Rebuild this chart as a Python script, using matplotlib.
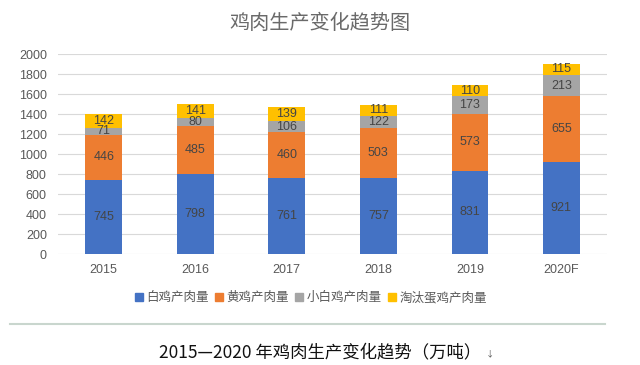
import numpy as np
import matplotlib
matplotlib.use("Agg")
import matplotlib.pyplot as plt
from matplotlib.lines import Line2D

plt.rcParams['font.family'] = ['Noto Sans CJK SC', 'DejaVu Sans']

years = ["2015", "2016", "2017", "2018", "2019", "2020F"]
series_names = ["白鸡产肉量", "黄鸡产肉量", "小白鸡产肉量", "淘汰蛋鸡产肉量"]
white = [745, 798, 761, 757, 831, 921]
yellow = [446, 485, 460, 503, 573, 655]
small_white = [71, 80, 106, 122, 173, 213]
layer = [142, 141, 139, 111, 110, 115]
yticks = list(range(0, 2001, 200))

colors = ["#4472C4", "#ED7D31", "#A5A5A5", "#FFC000"]
series = [white, yellow, small_white, layer]

fig = plt.figure(figsize=(6.4, 3.65), dpi=100)
ax = fig.add_axes([0.0906, 0.304, 0.858, 0.548])

x = np.arange(len(years))
bottom = np.zeros(len(years))
for vals, col, name in zip(series, colors, series_names):
    vals = np.array(vals)
    ax.bar(x, vals, width=0.4, bottom=bottom, color=col, label=name, zorder=2)
    for xi, b, v in zip(x, bottom, vals):
        ax.text(xi, b + v / 2, str(v), ha="center", va="center",
                fontsize=9, color="#454545", family="Liberation Sans", zorder=3)
    bottom += vals

ax.set_xlim(-0.5, len(years) - 0.5)
ax.set_ylim(0, 2000)
ax.set_yticks(yticks)
ax.set_xticks(x)
ax.set_xticklabels(years)
ax.yaxis.grid(True, color="#D9D9D9", linewidth=0.8, zorder=0)
ax.set_axisbelow(True)
for s in ax.spines.values():
    s.set_visible(False)
ax.tick_params(axis="both", length=0, labelsize=9, colors="#595959")
ax.tick_params(axis="y", pad=8)
ax.tick_params(axis="x", pad=7)
for lbl in ax.get_xticklabels() + ax.get_yticklabels():
    lbl.set_family("Liberation Sans")

fig.text(0.5, 0.937, "鸡肉生产变化趋势图", ha="center", va="center",
         fontsize=14.5, color="#6a6a6a")

handles = [Line2D([], [], marker="s", linestyle="none", markersize=6,
                  markerfacecolor=c, markeredgecolor=c) for c in colors]
fig.legend(handles, series_names, loc="center", bbox_to_anchor=(0.484, 0.184),
           ncol=4, frameon=False, fontsize=9, labelcolor="#595959",
           handletextpad=0.1, columnspacing=0.3, handlelength=1.0)

fig.add_artist(Line2D([0.015, 0.945], [0.112, 0.112], color="#C9D6CE",
                      linewidth=1.5, transform=fig.transFigure))

fig.text(0.5, 0.035, "2015—2020 年鸡肉生产变化趋势（万吨）", ha="center",
         va="center", fontsize=12.5, color="#111111")
fig.text(0.765, 0.03, "↓", ha="center", va="center", fontsize=6, color="#555555")

fig.savefig("out.png", dpi=100)
